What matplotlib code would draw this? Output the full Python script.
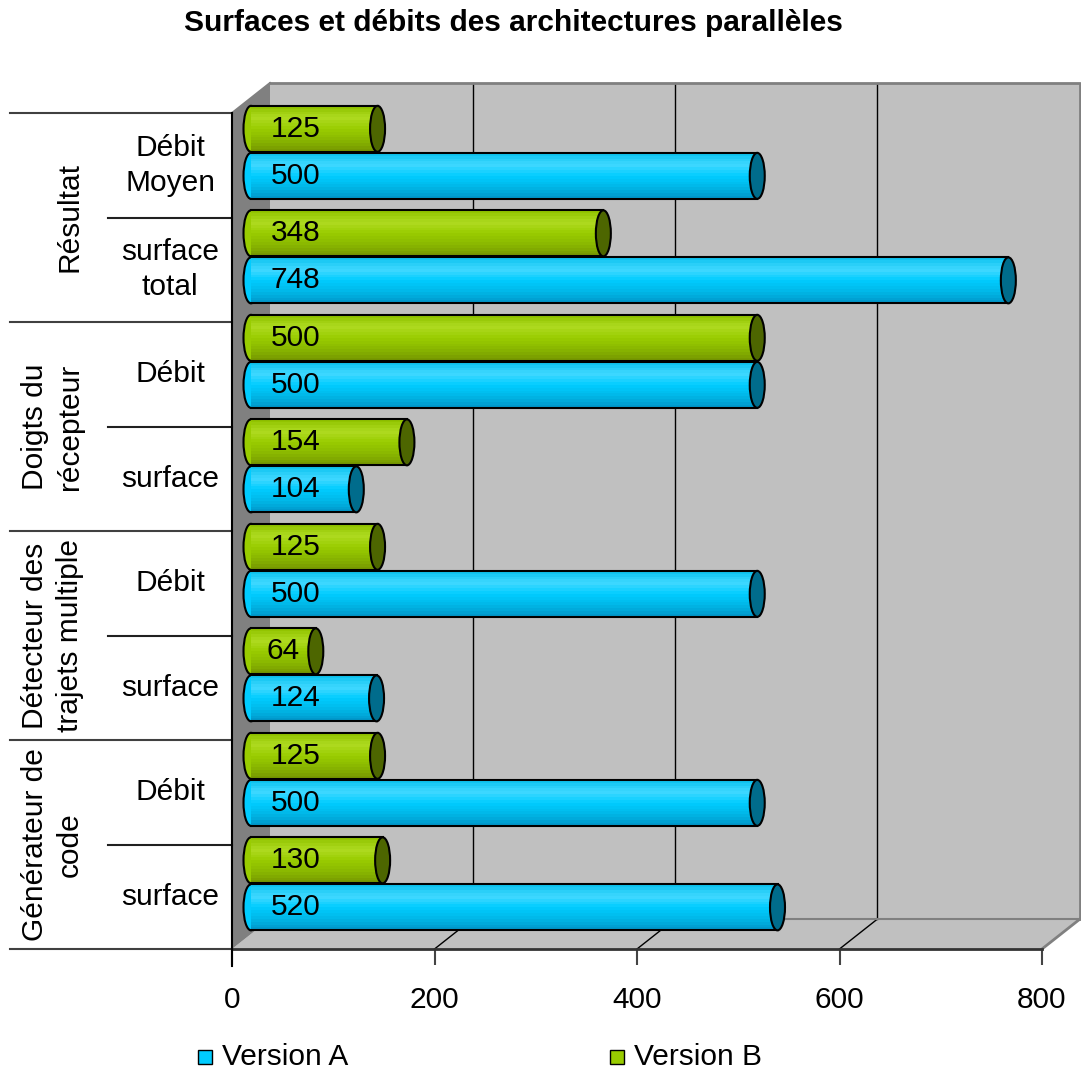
import matplotlib
matplotlib.use("Agg")
import matplotlib.pyplot as plt
from matplotlib.patches import Rectangle, Ellipse, Polygon
from matplotlib.colors import LinearSegmentedColormap
from matplotlib.transforms import blended_transform_factory

plt.rcParams['font.family'] = ['Liberation Sans', 'DejaVu Sans']

# ---- data -------------------------------------------------------------
title = "Surfaces et débits des architectures parallèles"
groups = ["Générateur de\ncode", "Détecteur des\ntrajets multiple",
          "Doigts du\nrécepteur", "Résultat"]
subcats = ["surface", "Débit", "surface", "Débit",
           "surface", "Débit", "surface\ntotal", "Débit\nMoyen"]
version_a = [520, 500, 124, 500, 104, 500, 748, 500]
version_b = [130, 125, 64, 125, 154, 500, 348, 125]
xticks = [0, 200, 400, 600, 800]
series_names = ["Version A", "Version B"]

# ---- figure & axes (front plane of the 3-D box) -----------------------
W, H, DPI = 1081, 1073, 100
fig = plt.figure(figsize=(W / DPI, H / DPI), dpi=DPI)
ax = fig.add_axes([232 / W, (H - 949) / H, 810 / W, 836 / H])
ax.set_xlim(0, 800)
ax.set_ylim(0, 8)
for s in ax.spines.values():
    s.set_visible(False)
ax.set_yticks([])
ax.set_xticks(xticks)
ax.set_xticklabels([str(t) for t in xticks])
ax.tick_params(axis='x', length=11.5, width=1.5, color='#444444', pad=15,
               labelsize=21.5)

px_x = 800 / 810          # data units per pixel, horizontally
px_y = 8 / 836            # data units per pixel, vertically
DX, DY = 38 * px_x, 30 * px_y   # depth offset of the back wall

wall = '#C0C0C0'
side = '#808080'

# back wall
ax.add_patch(Rectangle((DX, DY), 800, 8, fc=wall, ec='none', zorder=1,
                       clip_on=False))
# floor
ax.add_patch(Polygon([(0, 0), (800, 0), (800 + DX, DY), (DX, DY)],
                     closed=True, fc=wall, ec='none', zorder=1, clip_on=False))
# left side wall
ax.add_patch(Polygon([(0, 0), (0, 8), (DX, 8 + DY), (DX, DY)],
                     closed=True, fc=side, ec='none', zorder=1.2, clip_on=False))

# gridlines on back wall and floor
for t in xticks[1:-1]:
    ax.plot([t + DX, t + DX], [DY, 8 + DY], color='black', lw=1, zorder=1.5,
            clip_on=False)
    ax.plot([t, t + DX], [0, DY], color='black', lw=1, zorder=1.5,
            clip_on=False)
ax.plot([800, 800 + DX], [0, DY], color='#808080', lw=2, zorder=1.5,
        clip_on=False)
# back wall outline
ax.plot([DX, 800 + DX, 800 + DX], [8 + DY, 8 + DY, DY], color='#808080',
        lw=2, zorder=1.5, clip_on=False)
ax.plot([DX, 800 + DX], [DY, DY], color='#808080', lw=1.5, zorder=1.5,
        clip_on=False)
ax.plot([0, DX], [8, 8 + DY], color='#808080', lw=1.5, zorder=1.5,
        clip_on=False)
# front floor edge
ax.plot([0, 800], [0, 0], color='#333333', lw=2, zorder=6, clip_on=False)

# ---- cylinders ----------------------------------------------------------
cmap_a = LinearSegmentedColormap.from_list(
    'a', ['#10C4F0', '#40D8FF', '#00CCFF', '#00B8E8', '#0099CC'])
cmap_b = LinearSegmentedColormap.from_list(
    'b', ['#92C400', '#AEDA20', '#99CC00', '#8AB800', '#779900'])
cap_a = '#006C8C'
cap_b = '#4D6600'

BAR_H = 0.44
OFF = 0.225
EW = 15 * px_x


def cylinder(yc, v, cmap, cap, z):
    x0 = DX / 2
    yc = yc + DY / 2 - 0.02
    h = BAR_H
    ax.add_patch(Ellipse((x0, yc), EW, h, fc=cmap(0.5), ec='black', lw=1.5,
                         zorder=z, clip_on=False))
    n = 16
    sh = h / n
    for k in range(n):
        ytop = yc + h / 2 - k * sh
        ax.add_patch(Rectangle((x0, ytop - sh * 1.08), v, sh * 1.08,
                               fc=cmap(k / (n - 1)), ec='none', lw=0,
                               zorder=z + 0.1, clip_on=False))
    ax.plot([x0, x0 + v], [yc + h / 2, yc + h / 2], color='black', lw=1.5,
            zorder=z + 0.2, clip_on=False)
    ax.plot([x0, x0 + v], [yc - h / 2, yc - h / 2], color='black', lw=1.5,
            zorder=z + 0.2, clip_on=False)
    ax.add_patch(Ellipse((x0 + v, yc), EW, h, fc=cap, ec='black', lw=1.5,
                         zorder=z + 0.3, clip_on=False))
    ax.text(x0 + min(44, v / 2), yc, str(v), ha='center', va='center',
            fontsize=21.5, zorder=z + 0.4)


for i in range(len(subcats) - 1, -1, -1):
    base = 10 + (len(subcats) - i) * 2
    cylinder(i + 0.5 + OFF, version_b[i], cmap_b, cap_b, base)
    cylinder(i + 0.5 - OFF, version_a[i], cmap_a, cap_a, base + 1)

# ---- category table on the left ----------------------------------------
bt = blended_transform_factory(fig.transFigure, ax.transData)
ax.plot([232 / W, 232 / W], [-0.16, 8], color='black', lw=1.5,
        transform=bt, clip_on=False, zorder=7)
for g in range(len(groups) + 1):
    ax.plot([10 / W, 232 / W], [2 * g, 2 * g], color='#404040', lw=1.5,
            transform=bt, clip_on=False)
for g in range(len(groups)):
    ax.plot([108 / W, 232 / W], [2 * g + 1, 2 * g + 1], color='#202020',
            lw=1.5, transform=bt, clip_on=False)
for i, lab in enumerate(subcats):
    ax.text(170 / W, i + 0.5, lab, transform=bt, ha='center', va='center',
            fontsize=21.5, linespacing=1.3, multialignment='center')
for g, lab in enumerate(groups):
    ax.text(84 / W, 2 * g + 1, lab, transform=bt, ha='right', va='center',
            rotation=90, fontsize=21.5, linespacing=1.3,
            multialignment='center')

# ---- title --------------------------------------------------------------
fig.text(513 / W, 1 - 23 / H, title, ha='center', va='center', fontsize=21.5,
         fontweight='bold')

# ---- legend -------------------------------------------------------------
for name, color, x in zip(series_names, ['#00CCFF', '#99CC00'], [198, 610]):
    fig.add_artist(Rectangle((x / W, 1 - 1064 / H), 14 / W, 14 / H,
                             transform=fig.transFigure, fc=color, ec='black',
                             lw=1))
    fig.text((x + 24) / W, 1 - 1057 / H, name, ha='left', va='center',
             fontsize=21.5)

fig.savefig('out.png', dpi=DPI)
